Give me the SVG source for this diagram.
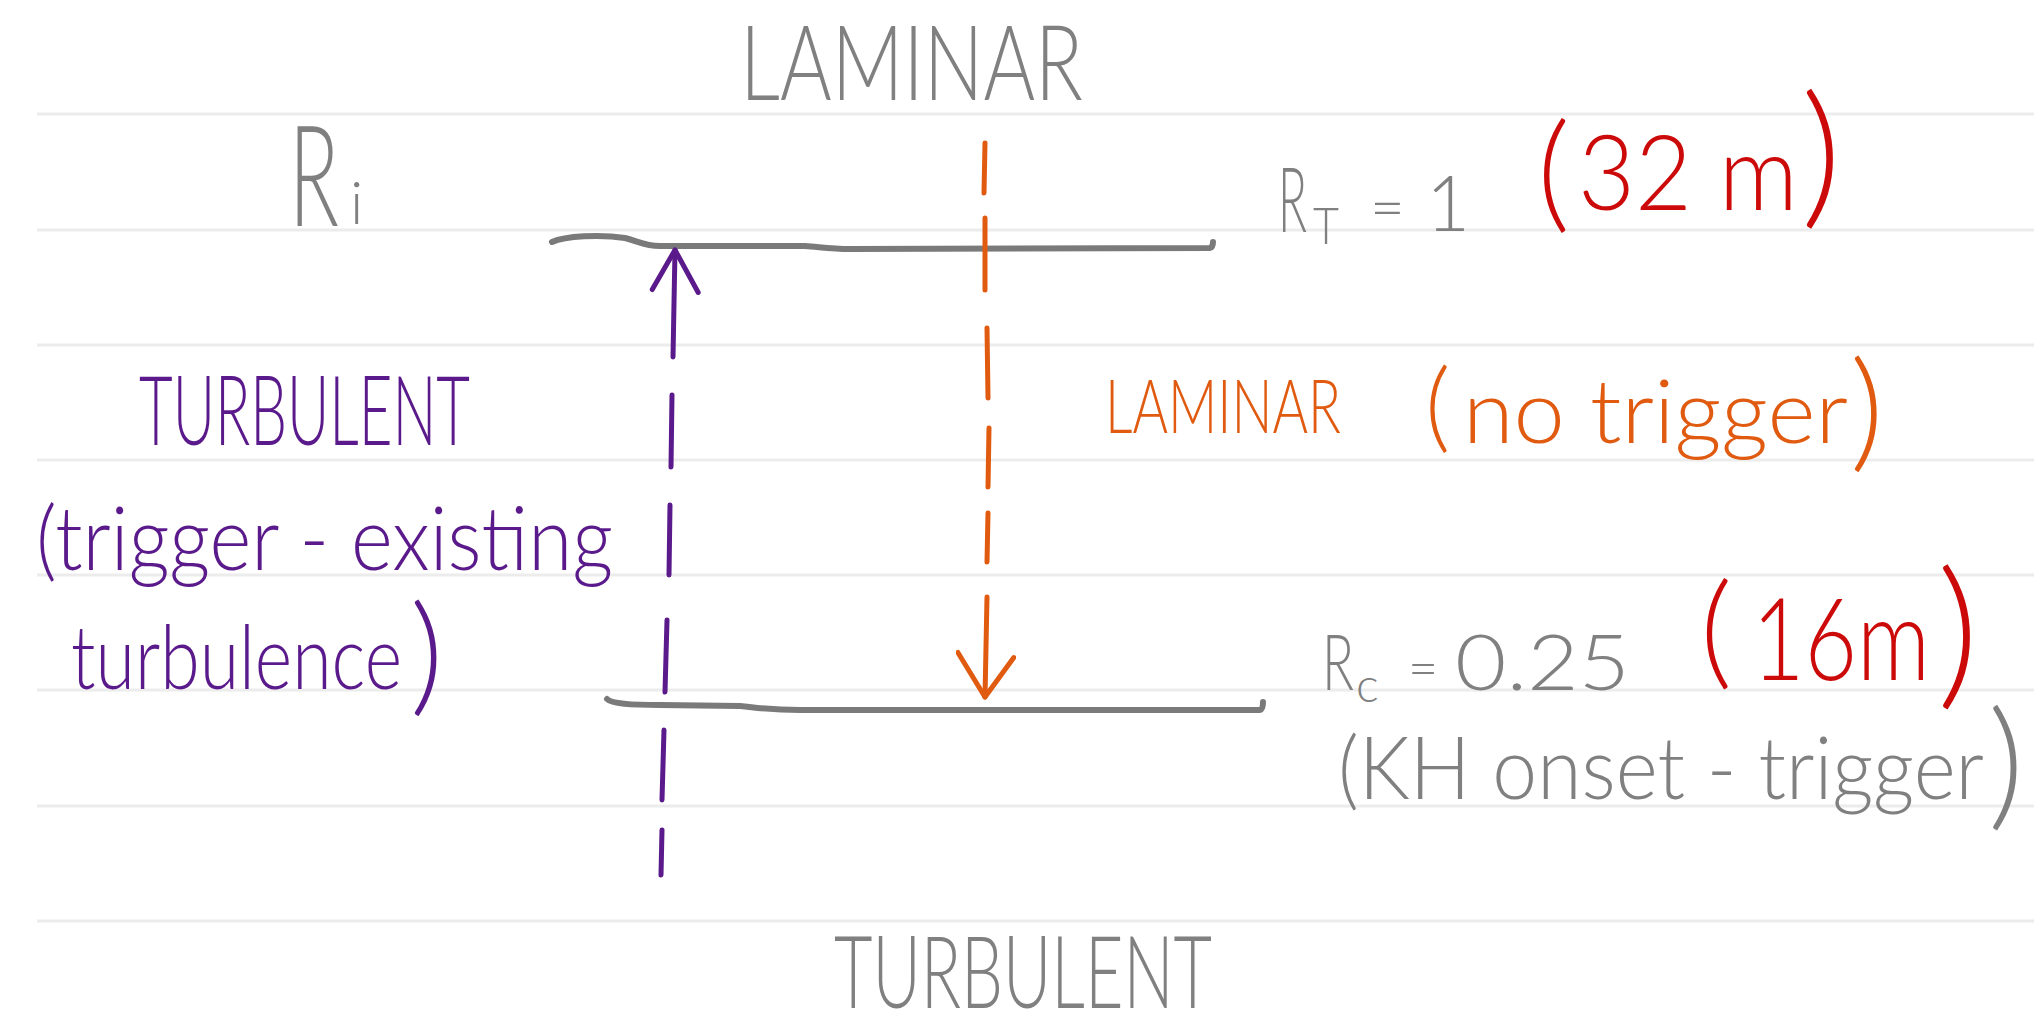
<svg xmlns="http://www.w3.org/2000/svg" width="2034" height="1027" viewBox="0 0 2034 1027">
<style>
  text { font-family: Lato, "Liberation Sans", sans-serif; font-weight: 300; }
  .g { fill: #808080; }
  .p { fill: #5b1a8b; }
  .o { fill: #e05a10; }
  .r { fill: #cc0a0a; }
  .rule { stroke: #ececec; stroke-width: 3; fill: none; }
  .lvl { stroke: #7a7a7a; stroke-width: 6; fill: none; stroke-linecap: round; stroke-linejoin: round; }
  .dp { stroke: #5b1a8b; stroke-width: 5; fill: none; stroke-linecap: round; }
  .do { stroke: #e05a10; stroke-width: 5; fill: none; stroke-linecap: round; }
</style>
<defs>
  <marker id="ahp" markerUnits="userSpaceOnUse" viewBox="-50 -30 56 60" refX="0" refY="0" markerWidth="56" markerHeight="60" orient="auto">
    <path d="M-40,-22 L0,0 L-42,24" fill="none" stroke="#5b1a8b" stroke-width="5" stroke-linecap="round" stroke-linejoin="round"/>
  </marker>
  <marker id="aho" markerUnits="userSpaceOnUse" viewBox="-50 -30 56 60" refX="0" refY="0" markerWidth="56" markerHeight="60" orient="auto">
    <path d="M-40,-28 L0,0 L-44,28" fill="none" stroke="#e05a10" stroke-width="5" stroke-linecap="round" stroke-linejoin="round"/>
  </marker>
</defs>
<rect x="0" y="0" width="2034" height="1027" fill="#ffffff"/>
<g id="ruled-lines">
  <path class="rule" d="M37,114H2034M37,230H2034M37,345H2034M37,460H2034M37,575H2034M37,690H2034M37,806H2034M37,921H2034"/>
</g>
<g id="levels">
  <path id="level-rt" class="lvl" d="M552,242 C565,236 600,234 625,238 C640,242 645,246 660,246 L805,246 C820,247 830,249 850,249 L1210,248 Q1213,247 1213,242"/>
  <path id="level-rc" class="lvl" d="M607,699 C612,704 630,705 660,705 L740,706 C760,708 770,710 800,710 L1260,710 Q1263,709 1263,702"/>
</g>
<g id="connectors">
  <g id="turbulent-arrow">
    <path class="dp" d="M673,357 L675,250" marker-end="url(#ahp)"/>
    <path class="dp" d="M672,395 L671,467"/>
    <path class="dp" d="M670,505 L669,575"/>
    <path class="dp" d="M667,620 L665,692"/>
    <path class="dp" d="M664,730 L662,800"/>
    <path class="dp" d="M662,830 L661,875"/>
  </g>
  <g id="laminar-arrow">
    <path class="do" d="M985,143 L984,193"/>
    <path class="do" d="M985,218 L985,290"/>
    <path class="do" d="M987,328 L988,398"/>
    <path class="do" d="M989,428 L988,487"/>
    <path class="do" d="M988,513 L987,562"/>
    <path class="do" d="M987,597 L985,697" marker-end="url(#aho)"/>
  </g>
</g>
<g id="label-laminar-top">
  <text class="g" x="740" y="100" font-size="104" textLength="343" lengthAdjust="spacingAndGlyphs">LAMINAR</text>
</g>
<g id="label-ri">
  <text class="g"><tspan x="289" y="226" font-size="140" textLength="50" lengthAdjust="spacingAndGlyphs">R</tspan><tspan x="350" y="224" font-size="60">i</tspan></text>
</g>
<g id="label-rt">
  <text class="g" font-size="90"><tspan x="1278" y="232" textLength="29" lengthAdjust="spacingAndGlyphs">R</tspan><tspan x="1313" y="244" font-size="52" textLength="26" lengthAdjust="spacingAndGlyphs">T</tspan><tspan x="1370" y="228" font-size="60">=</tspan><tspan x="1426" y="231" font-size="76">1</tspan></text>
</g>
<g id="label-32m">
  <text class="r"><tspan x="1537" y="216" font-size="128">(</tspan><tspan x="1578" y="210" font-size="105" textLength="220" lengthAdjust="spacingAndGlyphs">32 m</tspan><tspan x="1801" y="208" font-size="157">)</tspan></text>
</g>
<g id="label-laminar-mid">
  <text class="o" x="1105" y="433" font-size="74" textLength="236" lengthAdjust="spacingAndGlyphs">LAMINAR</text>
  <text class="o"><tspan x="1425" y="440" font-size="98">(</tspan><tspan x="1463" y="443" font-size="88" textLength="385" lengthAdjust="spacingAndGlyphs">no trigger</tspan><tspan x="1850" y="455" font-size="131">)</tspan></text>
</g>
<g id="label-turbulent-left">
  <text class="p" x="139" y="445" font-size="97" textLength="331" lengthAdjust="spacingAndGlyphs">TURBULENT</text>
  <text class="p" x="36" y="570" font-size="88" textLength="577" lengthAdjust="spacingAndGlyphs">(trigger - existing</text>
  <text class="p"><tspan x="71" y="689" font-size="88" textLength="331" lengthAdjust="spacingAndGlyphs">turbulence</tspan><tspan x="410" y="699" font-size="130">)</tspan></text>
</g>
<g id="label-rc">
  <text class="g" font-size="76"><tspan x="1322" y="690" textLength="32" lengthAdjust="spacingAndGlyphs">R</tspan><tspan x="1356" y="702" font-size="48">c</tspan><tspan x="1408" y="686" font-size="52">=</tspan><tspan x="1455" y="690" textLength="175" lengthAdjust="spacingAndGlyphs">0.25</tspan></text>
  <text class="g"><tspan x="1338" y="799" font-size="86" textLength="646" lengthAdjust="spacingAndGlyphs">(KH onset - trigger</tspan><tspan x="1988" y="812" font-size="140">)</tspan></text>
</g>
<g id="label-16m">
  <text class="r"><tspan x="1700" y="673" font-size="125">(</tspan><tspan x="1752" y="680" font-size="115" textLength="178" lengthAdjust="spacingAndGlyphs">16m</tspan><tspan x="1937" y="688" font-size="162">)</tspan></text>
</g>
<g id="label-turbulent-bottom">
  <text class="g" x="834" y="1008" font-size="100" textLength="378" lengthAdjust="spacingAndGlyphs">TURBULENT</text>
</g>
</svg>
